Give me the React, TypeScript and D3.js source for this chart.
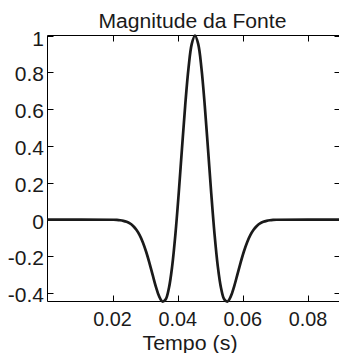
import React from "react";
import * as d3 from "d3";

const tempo: number[] = [
  0,
  0.0203, 0.0213, 0.0223, 0.0233, 0.0243, 0.0253, 0.0263, 0.0273, 0.0283, 0.0293,
  0.0303, 0.0313, 0.0323, 0.0333, 0.0343, 0.0353, 0.0363, 0.0373, 0.0383, 0.0393,
  0.0403, 0.0413, 0.0423, 0.0433, 0.0443, 0.0453, 0.0463, 0.0473, 0.0483, 0.0493,
  0.0503, 0.0513, 0.0523, 0.0533, 0.0543, 0.0553, 0.0563, 0.0573, 0.0583, 0.0593,
  0.0603, 0.0613, 0.0623, 0.0633, 0.0643, 0.0653, 0.0663, 0.0673, 0.0683, 0.0693,
  0.0703,
  0.09,
];

const magnitude: number[] = [
  0,
  -0.001, -0.0019, -0.0037, -0.0068, -0.0122, -0.021, -0.0348, -0.0554, -0.0847, -0.1244,
  -0.1749, -0.235, -0.3007, -0.3651, -0.4175, -0.445, -0.4336, -0.3717, -0.2526, -0.0776,
  0.1418, 0.3842, 0.6209, 0.8202, 0.9533, 1, 0.9533, 0.8202, 0.6209, 0.3842,
  0.1418, -0.0776, -0.2526, -0.3717, -0.4336, -0.445, -0.4175, -0.3651, -0.3007, -0.235,
  -0.1749, -0.1244, -0.0847, -0.0554, -0.0348, -0.021, -0.0122, -0.0068, -0.0037, -0.0019,
  -0.001,
  0,
];

const xTicks: number[] = [0.02, 0.04, 0.06, 0.08];
const xTickLabels: string[] = ["0.02", "0.04", "0.06", "0.08"];
const yTicks: number[] = [1, 0.8, 0.6, 0.4, 0.2, 0, -0.2, -0.4];
const yTickLabels: string[] = ["1", "0.8", "0.6", "0.4", "0.2", "0", "-0.2", "-0.4"];

const title = "Magnitude da Fonte";
const xLabel = "Tempo (s)";

export default function App() {
  const W = 339;
  const H = 353;
  const left = 47.5;
  const right = 340.5;
  const top = 35.5;
  const bottom = 301.5;
  const tickLen = 6;

  const x = d3.scaleLinear().domain([0, 0.09]).range([left, right]);
  const ext = d3.extent(magnitude) as [number, number];
  const y = d3.scaleLinear().domain(ext).range([bottom, top]);

  const data = tempo.map((t, i) => [t, magnitude[i]] as [number, number]);
  const line = d3
    .line<[number, number]>()
    .x((d) => x(d[0]))
    .y((d) => y(d[1]))
    .curve(d3.curveCatmullRom);

  const font = "'Liberation Sans', Arial, Helvetica, sans-serif";
  const fs = 21;

  return (
    <svg
      width={W}
      height={H}
      style={{ position: "absolute", left: 0, top: 0, background: "#fff" }}
    >
      <rect x={0} y={0} width={W} height={H} fill="#fff" />
      <line x1={left} x2={left} y1={top} y2={bottom} stroke="#000" strokeWidth={1} />
      <line x1={left} x2={right} y1={top} y2={top} stroke="#000" strokeWidth={1} />
      <line x1={left} x2={right} y1={bottom} y2={bottom} stroke="#000" strokeWidth={1} />
      <line x1={right} x2={right} y1={top} y2={bottom} stroke="#000" strokeWidth={1} />

      {xTicks.map((t, i) => {
        const px = Math.round(x(t)) + 0.5;
        return (
          <g key={"xt" + i}>
            <line x1={px} x2={px} y1={bottom} y2={bottom - tickLen} stroke="#000" strokeWidth={1} />
            <line x1={px} x2={px} y1={top} y2={top + tickLen} stroke="#000" strokeWidth={1} />
            <text
              x={x(t)}
              y={326}
              textAnchor="middle"
              fontFamily={font}
              fontSize={fs}
              fill="#1a1a1a"
              textLength={38.5}
              lengthAdjust="spacingAndGlyphs"
            >
              {xTickLabels[i]}
            </text>
          </g>
        );
      })}

      {yTicks.map((t, i) => {
        const py = Math.round(y(t)) + 0.5;
        return (
          <g key={"yt" + i}>
            <line x1={left} x2={left + tickLen} y1={py} y2={py} stroke="#000" strokeWidth={1} />
            <line x1={right} x2={right - tickLen} y1={py} y2={py} stroke="#000" strokeWidth={1} />
            <text
              x={44}
              y={y(t) + (t === 1 ? 3 : 1.5)}
              dy="0.36em"
              textAnchor="end"
              fontFamily={font}
              fontSize={fs}
              fill="#1a1a1a"
            >
              {yTickLabels[i]}
            </text>
          </g>
        );
      })}

      <path d={line(data) || ""} fill="none" stroke="#1a1a1a" strokeWidth={2.7} strokeLinejoin="round" />

      <text
        x={192.5}
        y={28.3}
        textAnchor="middle"
        fontFamily={font}
        fontSize={20}
        fill="#1a1a1a"
        textLength={188}
        lengthAdjust="spacingAndGlyphs"
      >
        {title}
      </text>
      <text
        x={190}
        y={349.5}
        textAnchor="middle"
        fontFamily={font}
        fontSize={fs}
        fill="#1a1a1a"
        textLength={95}
        lengthAdjust="spacingAndGlyphs"
      >
        {xLabel}
      </text>
    </svg>
  );
}
